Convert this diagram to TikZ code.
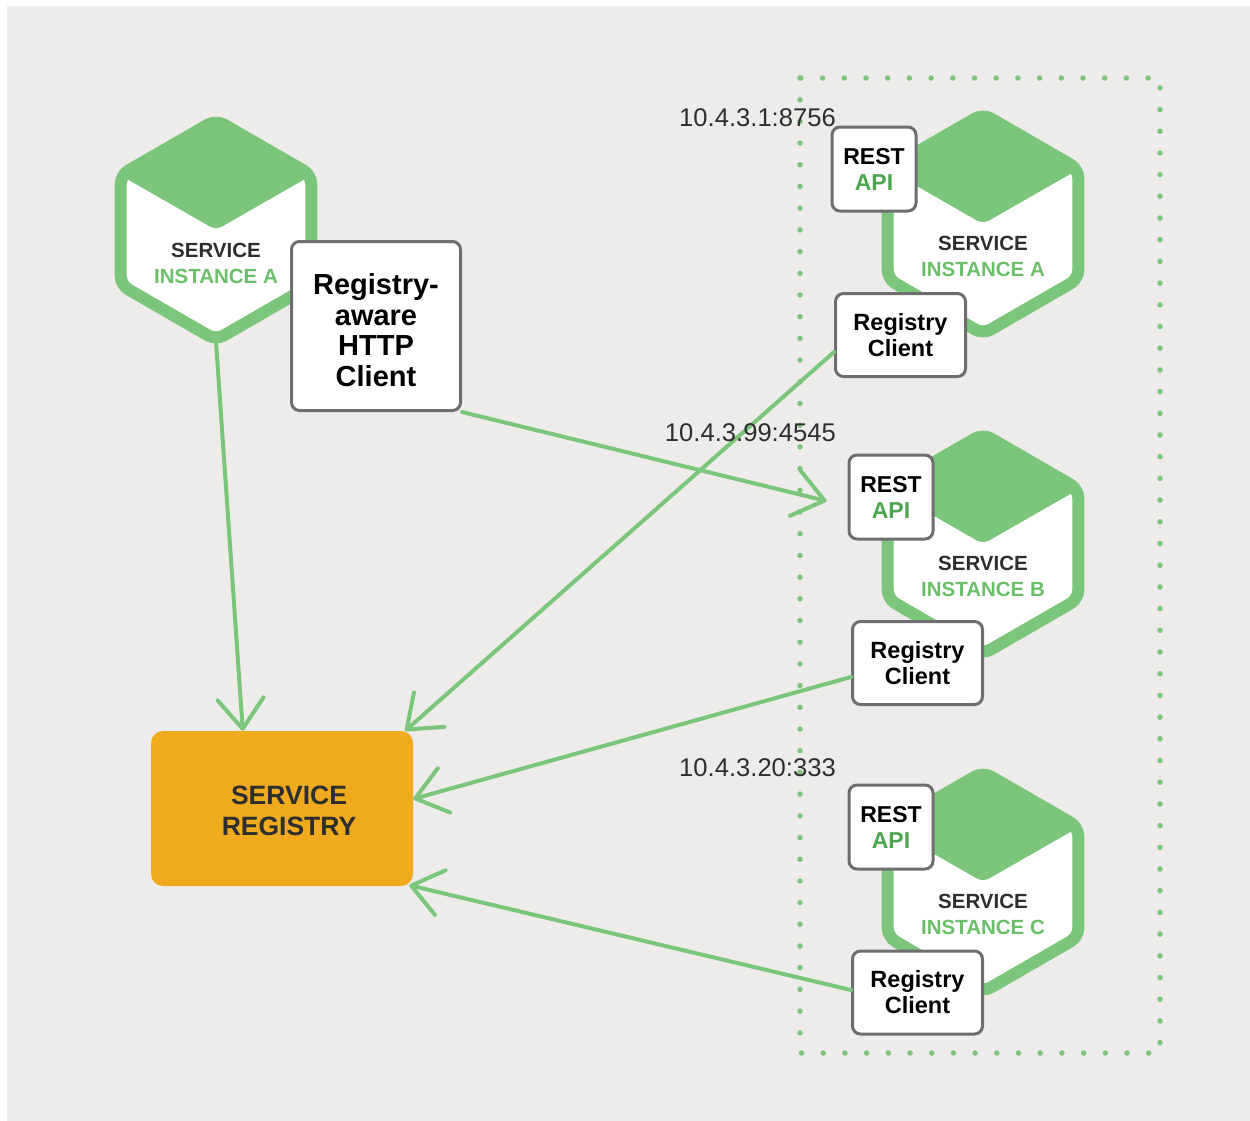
\documentclass[tikz,border=0pt]{standalone}
\usepackage{fontspec}
\setmainfont{Liberation Sans}
\usetikzlibrary{arrows.meta,calc}
\definecolor{bg}{HTML}{EDECEA}
\definecolor{hgreen}{HTML}{7BC67A}
\definecolor{tgreen}{HTML}{6CBF69}
\definecolor{agreen}{HTML}{4DA550}
\definecolor{boxgray}{HTML}{6E6E6E}
\definecolor{regorange}{HTML}{F0AA1E}
\definecolor{darktxt}{HTML}{2E2E2E}
\begin{document}
\begin{tikzpicture}[x=1pt,y=-1pt,
  hexline/.style={draw=hgreen, line width=12pt, fill=white, rounded corners=9pt, line join=round},
  hextop/.style={fill=hgreen, rounded corners=7pt},
  conn/.style={draw=hgreen, line width=4pt, line cap=round, -{Straight Barb[length=30pt,width=46pt,round]}},
  frame/.style={draw=hgreen, line width=5.5pt, line cap=round, dash pattern=on 0pt off 21.7pt},
  cbox/.style={draw=boxgray, line width=3pt, fill=white, rounded corners=8pt, align=center, inner sep=0pt},
  restbox/.style={cbox, minimum width=84pt, minimum height=84pt, font=\bfseries\fontsize{23}{26}\selectfont},
  rcbox/.style={cbox, minimum width=130pt, minimum height=83pt, font=\bfseries\fontsize{23.5}{26}\selectfont},
  hextxt/.style={align=center, inner sep=0pt, text=darktxt, font=\bfseries\fontsize{20.5}{26}\selectfont},
  iplabel/.style={anchor=east, inner sep=0pt, text=darktxt, font=\fontsize{25.6}{28}\selectfont},
  svchex/.pic={
    \path[hexline] (0,-110) -- (95.3,-55) -- (95.3,55) -- (0,110) -- (-95.3,55) -- (-95.3,-55) -- cycle;
    \fill[hextop] (0,-112) -- (-96,-55) -- (0,0) -- (96,-55) -- cycle;
  }
]
\useasboundingbox (0,0) rectangle (1250,1120);
\fill[white] (-5,-5) rectangle (1260,1130);
\fill[bg] (7,6) rectangle (1260,1130);

% dotted frame round the instances
\draw[frame] (800,78) rectangle (1160,1053);

% hexagons
\pic at (216,230) {svchex};
\pic at (983,224) {svchex};
\pic at (983,544) {svchex};
\pic at (983,882) {svchex};

\node[hextxt] (txtL) at (216,263) {SERVICE\\\textcolor{tgreen}{INSTANCE A}};
\node[hextxt] (txtA) at (983,256) {SERVICE\\\textcolor{tgreen}{INSTANCE A}};
\node[hextxt] (txtB) at (983,576.5) {SERVICE\\\textcolor{tgreen}{INSTANCE B}};
\node[hextxt] (txtC) at (983,914.5) {SERVICE\\\textcolor{tgreen}{INSTANCE C}};

% service registry
\node[fill=regorange, rounded corners=12pt, minimum width=262pt, minimum height=155pt, inner sep=0pt,
      label={[xshift=7pt, yshift=-2pt, align=center, text=darktxt, font=\bfseries\fontsize{26.5}{31}\selectfont]center:SERVICE\\REGISTRY}]
      (reg) at (282,808.5) {};

% boxes
\node[cbox, minimum width=169pt, minimum height=169pt,
      label={[yshift=-4pt, align=center, font=\bfseries\fontsize{29}{30.7}\selectfont]center:Registry-\\aware\\HTTP\\Client}]
      (http) at (376,326) {};
\node[restbox] (restA) at (874,169) {REST\\\textcolor{agreen}{API}};
\node[restbox] (restB) at (891,497) {REST\\\textcolor{agreen}{API}};
\node[restbox] (restC) at (891,827) {REST\\\textcolor{agreen}{API}};
\node[rcbox] (rcA) at (900.5,335) {Registry\\Client};
\node[rcbox] (rcB) at (917.5,663) {Registry\\Client};
\node[rcbox] (rcC) at (917.5,992.5) {Registry\\Client};

% connector end points
\coordinate (hexLb) at (216,342);
\coordinate (regT) at ($(reg.north west)+(92,0)$);
\coordinate (regTR) at ($(reg.north east)+(-8,0)$);
\coordinate (regR) at ($(reg.east)+(0,-9.5)$);
\coordinate (regBR) at ($(reg.south east)+(-4,-1)$);
\coordinate (restBin) at ($(restB.west)+(-21,4)$);
\coordinate (rcAout) at ($(rcA.west)+(0,17)$);
\coordinate (rcBout) at ($(rcB.west)+(0,14)$);
\coordinate (rcCout) at ($(rcC.west)+(0,-2.5)$);

% connectors
\draw[conn] (hexLb) -- (regT);
\draw[conn] (http.south east) -- (restBin);
\draw[conn] (rcAout) -- (regTR);
\draw[conn] (rcBout) -- (regR);
\draw[conn] (rcCout) -- (regBR);

% address labels
\node[iplabel] (ipA) at (836,118) {10.4.3.1:8756};
\node[iplabel] (ipB) at (836,433) {10.4.3.99:4545};
\node[iplabel] (ipC) at (836,768) {10.4.3.20:333};
\end{tikzpicture}
\end{document}
